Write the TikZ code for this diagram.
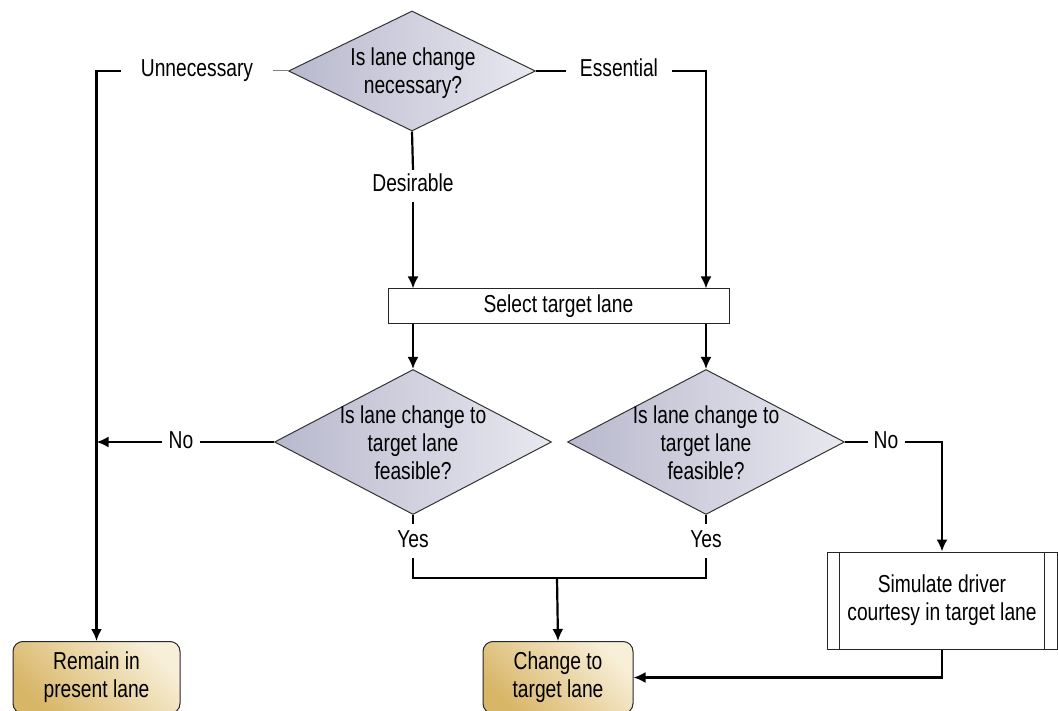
\documentclass[tikz,border=0pt]{standalone}
\usepackage{fontspec}
\setmainfont{Liberation Sans}[FakeStretch=0.785]
\usetikzlibrary{shapes.geometric,arrows.meta,calc}
\definecolor{dialeft}{RGB}{185,185,206}
\definecolor{diaright}{RGB}{232,232,240}
\definecolor{golddark}{RGB}{216,182,104}
\definecolor{goldlight}{RGB}{248,239,216}
\begin{document}
\begin{tikzpicture}[x=1pt,y=-1pt,
  font=\fontsize{24.5}{28}\selectfont,
  conn/.style={line width=2.2pt,black},
  arr/.style={conn,-{Latex[length=12pt,width=11pt]}},
  dia/.style={diamond,draw=black!80,line width=1pt,inner sep=0pt,
    left color=dialeft,right color=diaright},
  endbox/.style={rectangle,rounded corners=10pt,draw=black!85,line width=1pt,
    top color=goldlight,bottom color=golddark,shading angle=-45,
    minimum width=167pt,minimum height=72pt,align=center,inner sep=0pt},
  procbox/.style={rectangle,draw=black!85,line width=1pt,fill=white,
    align=center,inner sep=0pt},
  lbl/.style={inner ysep=4pt,text height=17pt,text depth=5pt},
  dtext/.style={align=center,inner sep=0pt}]
\useasboundingbox (0,0) rectangle (1058,711);
% decisions
\node[dia,minimum width=247pt,minimum height=120pt] (d1) at (412,71) {};
\node[dtext] (t1) at (413,73) {Is lane change\\necessary?};
\node[dia,minimum width=277pt,minimum height=145pt] (d2) at (413,442) {};
\node[dtext] (t2) at (413,443) {Is lane change to\\target lane\\feasible?};
\node[dia,minimum width=277pt,minimum height=145pt] (d3) at (706,442) {};
\node[dtext] (t3) at (706,443) {Is lane change to\\target lane\\feasible?};
% process boxes
\node[procbox,minimum width=341pt,minimum height=35pt] (sel) at (558.5,306.5) {Select target lane};
\node[procbox,minimum width=230pt,minimum height=97pt] (sim) at (942,600.5) {Simulate driver\\courtesy in target lane};
\draw[black!85,line width=1pt] ([xshift=13pt]sim.north west) -- ([xshift=13pt]sim.south west);
\draw[black!85,line width=1pt] ([xshift=-13pt]sim.north east) -- ([xshift=-13pt]sim.south east);
% terminal boxes
\node[endbox] (remain) at (96.5,677.5) {Remain in\\present lane};
\node[endbox,minimum width=150pt] (change) at (558,677.5) {Change to\\target lane};
% labels
\node[lbl,inner xsep=20pt] (unn) at (197,71) {Unnecessary};
\node[lbl,inner xsep=14pt] (ess) at (619,71) {Essential};
\node[lbl,inner xsep=4pt,inner ysep=5pt] (des) at (413,186) {Desirable};
\node[lbl,inner xsep=7pt] (no1) at (181,442) {No};
\node[lbl,inner xsep=6pt] (no2) at (886,442) {No};
\node[lbl,inner xsep=4pt,inner ysep=6pt] (yes1) at (413,541) {Yes};
\node[lbl,inner xsep=4pt,inner ysep=6pt] (yes2) at (706,541) {Yes};
\coordinate (join) at (557,578);
% connectors
\draw[gray,line width=1pt] (d1.west) -- (unn.east);
\draw[arr] (unn.west) -| (remain.north);
\draw[conn] (d1.east) -- (ess.west);
\draw[arr] (ess.east) -| (d3 |- sel.north);
\draw[conn] (d1.south) -- (des.north);
\draw[arr] (des.south) -- (des |- sel.north);
\draw[arr] (d2 |- sel.south) -- (d2.north);
\draw[arr] (d3 |- sel.south) -- (d3.north);
\draw[conn] (d2.west) -- (no1.east);
\draw[arr] (no1.west) -- (no1.west -| remain.north);
\draw[conn] (d3.east) -- (no2.west);
\draw[arr] (no2.east) -| (sim.north);
\draw[conn] (d2.south) -- (yes1.north);
\draw[conn] (d3.south) -- (yes2.north);
\draw[conn] (yes1.south) |- (join) -| (yes2.south);
\draw[arr] (join) -- (change.north);
\draw[arr] (sim.south) |- (change.east);
\end{tikzpicture}
\end{document}
